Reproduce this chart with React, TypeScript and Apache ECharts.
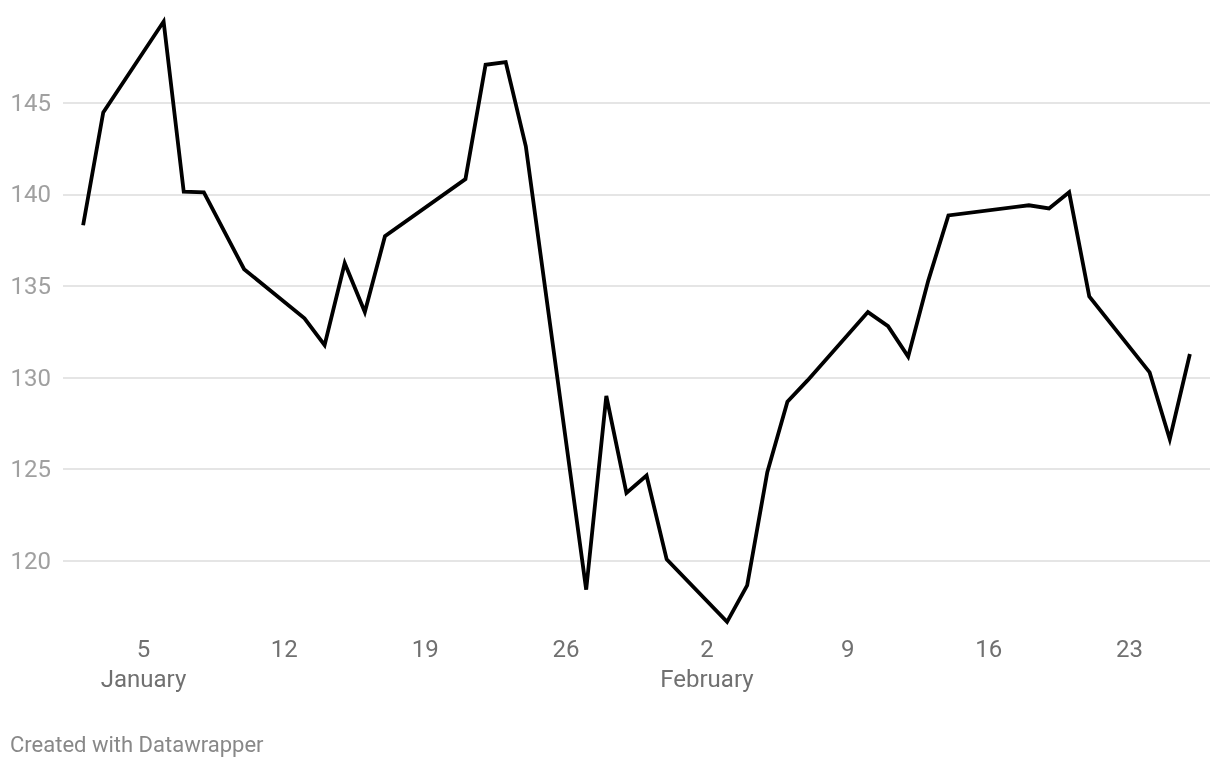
import React, { useEffect, useRef } from "react";
import * as echarts from "echarts";

// NVIDIA closing prices, Jan 2 – Feb 26 2025 (trading days)
const dates: string[] = [
  "2025-01-02", "2025-01-03", "2025-01-06", "2025-01-07", "2025-01-08", "2025-01-10",
  "2025-01-13", "2025-01-14", "2025-01-15", "2025-01-16", "2025-01-17",
  "2025-01-21", "2025-01-22", "2025-01-23", "2025-01-24",
  "2025-01-27", "2025-01-28", "2025-01-29", "2025-01-30", "2025-01-31",
  "2025-02-03", "2025-02-04", "2025-02-05", "2025-02-06", "2025-02-07",
  "2025-02-10", "2025-02-11", "2025-02-12", "2025-02-13", "2025-02-14",
  "2025-02-18", "2025-02-19", "2025-02-20", "2025-02-21",
  "2025-02-24", "2025-02-25", "2025-02-26",
];
const prices: number[] = [
  138.31, 144.47, 149.43, 140.14, 140.11, 135.91,
  133.23, 131.76, 136.24, 133.57, 137.71,
  140.83, 147.07, 147.22, 142.62,
  118.42, 128.99, 123.7, 124.65, 120.07,
  116.66, 118.65, 124.83, 128.68, 129.84,
  133.57, 132.8, 131.14, 135.29, 138.85,
  139.4, 139.23, 140.11, 134.43,
  130.28, 126.63, 131.28,
];
const xTickDates: string[] = [
  "2025-01-05", "2025-01-12", "2025-01-19", "2025-01-26",
  "2025-02-02", "2025-02-09", "2025-02-16", "2025-02-23",
];
const monthLabels: Record<string, string> = {
  "2025-01-05": "January",
  "2025-02-02": "February",
};
const xStart = "2025-01-01";
const xEnd = "2025-02-27";
const yMin = 115;
const yMax = 150;
const yStep = 5;
const footer = "Created with Datawrapper";

const dayNum = (s: string) => {
  const [y, m, d] = s.split("-").map(Number);
  return Math.round(Date.UTC(y, m - 1, d) / 86400000);
};

export default function App() {
  const ref = useRef<HTMLDivElement>(null);
  useEffect(() => {
    document.body.style.margin = "0";
    const chart = echarts.init(ref.current!, null, { renderer: "svg" });
    const tickNums = xTickDates.map(dayNum);
    const labelFor: Record<number, string> = {};
    xTickDates.forEach((d) => {
      const day = Number(d.split("-")[2]);
      labelFor[dayNum(d)] = monthLabels[d] ? `${day}\n{m|${monthLabels[d]}}` : `${day}`;
    });
    chart.setOption({
      animation: false,
      grid: { left: 63, right: 10, top: 11.1, bottom: 768 - 652.3, containLabel: false },
      xAxis: {
        type: "value",
        min: dayNum(xStart),
        max: dayNum(xEnd),
        offset: -18,
        axisLine: { show: false },
        axisTick: { show: false, customValues: tickNums },
        splitLine: { show: false },
        axisLabel: {
          customValues: tickNums,
          margin: 0,
          formatter: (v: number) => labelFor[Math.round(v)] ?? "",
          color: "#707070",
          fontFamily: "Roboto",
          fontSize: 24,
          lineHeight: 30,
          rich: { m: { color: "#707070", fontFamily: "Roboto", fontSize: 24, lineHeight: 30 } },
        },
      },
      yAxis: {
        type: "value",
        min: yMin,
        max: yMax,
        interval: yStep,
        axisLine: { show: false },
        axisTick: { show: false },
        axisLabel: {
          showMinLabel: false,
          showMaxLabel: false,
          margin: 12,
          color: "#a0a0a0",
          fontFamily: "Roboto",
          fontSize: 24,
        },
        splitLine: {
          show: true,
          showMinLine: false,
          showMaxLine: false,
          lineStyle: { color: "#e5e5e5", width: 2 },
        },
      },
      series: [
        {
          type: "line",
          data: dates.map((d, i) => [dayNum(d), prices[i]]),
          showSymbol: false,
          symbol: "none",
          lineStyle: { color: "#000000", width: 3.8, join: "miter", miterLimit: 10 },
          clip: false,
        },
      ],
      graphic: [
        {
          type: "text",
          left: 10,
          top: 733,
          style: { text: footer, fill: "#888888", fontFamily: "Roboto", fontSize: 22 },
        },
      ],
    });
    return () => chart.dispose();
  }, []);
  return <div ref={ref} style={{ position: "fixed", left: 0, top: 0, width: 1220, height: 768 }} />;
}
